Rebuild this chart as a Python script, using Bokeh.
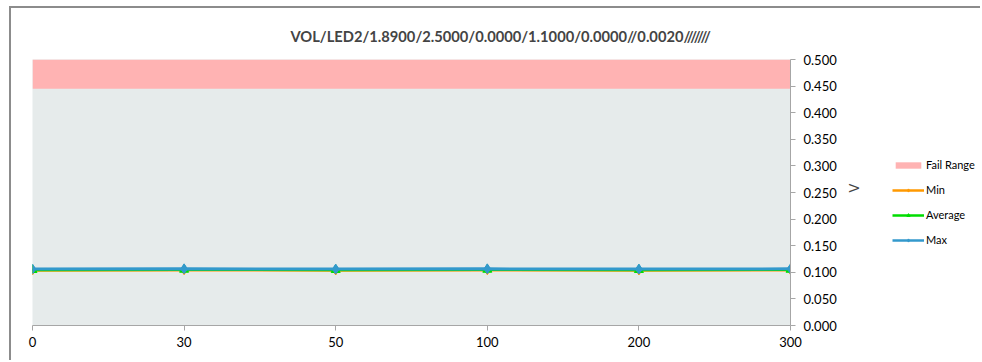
import math
from bokeh.plotting import figure
from bokeh.layouts import row
from bokeh.models import (Range1d, FixedTicker, LinearAxis, NumeralTickFormatter,
                          Legend, LegendItem, Title)
from bokeh.embed import file_html
from bokeh.resources import INLINE

# ---- data ----
categories = ["0", "30", "50", "100", "200", "300"]
min_vals = [0.1035, 0.1040, 0.1035, 0.1040, 0.1035, 0.1040]
avg_vals = [0.1045, 0.1050, 0.1045, 0.1050, 0.1045, 0.1050]
max_vals = [0.1060, 0.1065, 0.1060, 0.1065, 0.1060, 0.1065]
fail_low = 0.445
fail_high = 0.5
y_ticks = [0.0, 0.05, 0.1, 0.15, 0.2, 0.25, 0.3, 0.35, 0.4, 0.45, 0.5]
title_text = "VOL/LED2/1.8900/2.5000/0.0000/1.1000/0.0000//0.0020///////"
series_names = ["Fail Range", "Min", "Average", "Max"]

FONT = "Lato"
xs = list(range(len(categories)))
C_FAIL, C_MIN, C_AVG, C_MAX = "#FFB3B3", "#FF9900", "#00DD00", "#3399CC"

p = figure(width=869, height=354, output_backend="svg", toolbar_location=None,
           x_range=Range1d(0, len(categories) - 1), y_range=Range1d(0, 0.5),
           min_border_left=21, min_border_top=51, min_border_right=90,
           min_border_bottom=37, y_axis_location=None, x_axis_location=None)
p.styles = {"margin-left": "9px", "margin-top": "6px",
            "border-left": "2px solid #8c8c8c", "border-top": "2px solid #8c8c8c"}
p.background_fill_color = "#E6EBEB"
p.border_fill_color = "white"
p.outline_line_color = None
p.xgrid.visible = False
p.ygrid.visible = False

# axes
xaxis = LinearAxis(ticker=FixedTicker(ticks=xs))
xaxis.major_label_overrides = {i: c for i, c in enumerate(categories)}
xaxis.axis_line_color = "#A6A6A6"
xaxis.major_tick_line_color = "#A6A6A6"
xaxis.major_tick_out = 5
xaxis.major_tick_in = 0
xaxis.minor_tick_line_color = None
xaxis.major_label_text_font = FONT
xaxis.major_label_text_font_size = "13px"
xaxis.major_label_text_color = "#000000"
xaxis.major_label_standoff = 6
p.add_layout(xaxis, "below")

yaxis = LinearAxis(ticker=FixedTicker(ticks=y_ticks),
                   formatter=NumeralTickFormatter(format="0.000"))
yaxis.axis_line_color = "#A6A6A6"
yaxis.major_tick_line_color = "#A6A6A6"
yaxis.major_tick_out = 5
yaxis.major_tick_in = 0
yaxis.minor_tick_line_color = None
yaxis.major_label_text_font = FONT
yaxis.major_label_text_font_size = "13px"
yaxis.major_label_text_color = "#000000"
yaxis.major_label_standoff = 8
yaxis.axis_label = "V"
yaxis.axis_label_orientation = math.pi / 2
yaxis.axis_label_text_font = FONT
yaxis.axis_label_text_font_size = "13px"
yaxis.axis_label_text_font_style = "normal"
yaxis.axis_label_standoff = 14
p.add_layout(yaxis, "right")

# fail range
p.quad(left=0, right=len(categories) - 1, bottom=fail_low, top=fail_high,
       fill_color=C_FAIL, line_color=None)

p.line(xs, min_vals, line_color=C_MIN, line_width=2.5)
p.scatter(xs, min_vals, marker="diamond", size=9, fill_color=C_MIN, line_color=C_MIN)
p.line(xs, avg_vals, line_color=C_AVG, line_width=2.5)
p.scatter(xs, avg_vals, marker="triangle", size=9, fill_color=C_AVG, line_color=C_AVG)
p.line(xs, max_vals, line_color=C_MAX, line_width=3)
p.scatter(xs, max_vals, marker="diamond", size=10, fill_color=C_MAX, line_color=C_MAX)

p.title = Title(text=title_text, align="left", offset=258, text_font=FONT,
                text_font_size="14.7px", text_font_style="bold", standoff=29)

# ---- legend panel (separate figure to the right) ----
pl = figure(width=102, height=354, output_backend="svg", toolbar_location=None,
            x_range=Range1d(0, 1), y_range=Range1d(0, 1),
            min_border_left=0, min_border_right=0, min_border_top=0, min_border_bottom=0,
            x_axis_location=None, y_axis_location=None)
pl.styles = {"margin-top": "6px", "border-top": "2px solid #8c8c8c"}
pl.background_fill_color = "white"
pl.border_fill_color = "white"
pl.outline_line_color = None
pl.xgrid.visible = False
pl.ygrid.visible = False

# legend proxies: one point each, placed outside the visible range
off = [-10, -9]
lf = pl.quad(left=[-10], right=[-9], bottom=[-10], top=[-9], fill_color=C_FAIL, line_color=None)
l1 = pl.line(off, off, line_color=C_MIN, line_width=2.5)
s1 = pl.scatter(off, off, marker="diamond", size=7, fill_color=C_MIN, line_color=C_MIN)
l2 = pl.line(off, off, line_color=C_AVG, line_width=2.5)
s2 = pl.scatter(off, off, marker="triangle", size=7, fill_color=C_AVG, line_color=C_AVG)
l3 = pl.line(off, off, line_color=C_MAX, line_width=2.5)
s3 = pl.scatter(off, off, marker="diamond", size=7, fill_color=C_MAX, line_color=C_MAX)

legend = Legend(items=[
    LegendItem(label=series_names[0], renderers=[lf]),
    LegendItem(label=series_names[1], renderers=[l1, s1]),
    LegendItem(label=series_names[2], renderers=[l2, s2]),
    LegendItem(label=series_names[3], renderers=[l3, s3]),
], location=(14, 79))
legend.border_line_color = None
legend.background_fill_alpha = 0
legend.label_text_font = FONT
legend.label_text_font_size = "11px"
legend.label_text_color = "#000000"
legend.glyph_width = 32
legend.glyph_height = 8
legend.spacing = 12
legend.label_standoff = 2
legend.padding = 0
legend.margin = 0
pl.add_layout(legend, "center")

layout = row(p, pl, spacing=0)

open("out.html", "w").write(file_html(layout, INLINE))
